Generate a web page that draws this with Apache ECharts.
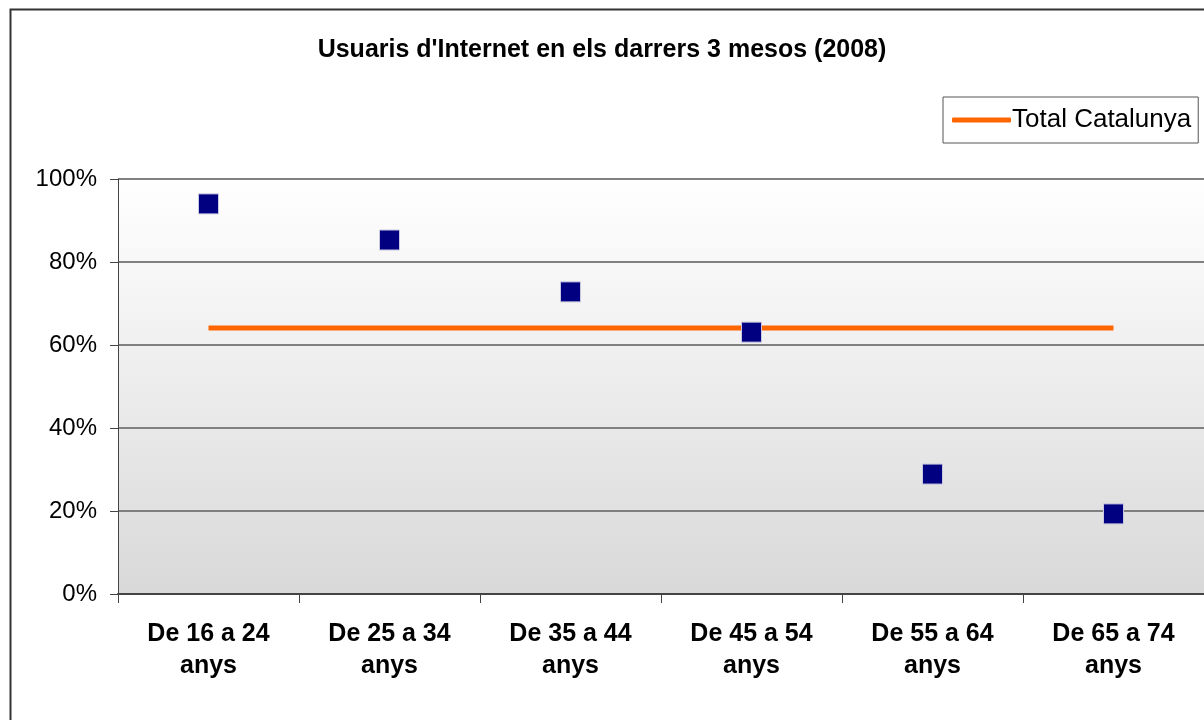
<!DOCTYPE html>
<html>
<head>
<meta charset="utf-8">
<script src="https://cdn.jsdelivr.net/npm/echarts@6/dist/echarts.min.js"></script>
<style>
html, body { margin: 0; padding: 0; background: #fff; }
#chart_wrap { width: 1204px; height: 720px; }
</style>
</head>
<body>
<div id="chart_wrap"></div>
<script>
var categories = ['De 16 a 24\nanys', 'De 25 a 34\nanys', 'De 35 a 44\nanys', 'De 45 a 54\nanys', 'De 55 a 64\nanys', 'De 65 a 74\nanys'];
var usuaris = [94.0, 85.3, 72.8, 63.1, 28.9, 19.3];
var totalCatalunya = [64.1, 64.1, 64.1, 64.1, 64.1, 64.1];
var yTicks = [0, 20, 40, 60, 80, 100];

var chart = echarts.init(document.getElementById('chart_wrap'));

var option = {
    backgroundColor: '#fff',
    animation: false,
    title: {
        text: "Usuaris d'Internet en els darrers 3 mesos (2008)",
        left: 'center',
        top: 33,
        textStyle: {
            fontFamily: 'Liberation Sans, Arial, sans-serif',
            fontSize: 25,
            fontWeight: 'bold',
            color: '#000'
        }
    },
    legend: {
        data: [{ name: 'Total Catalunya', icon: 'roundRect' }],
        left: 943,
        top: 97,
        padding: [10, 7, 10, 9],
        itemWidth: 59,
        itemHeight: 5,
        borderColor: '#555',
        borderWidth: 1,
        borderRadius: 0,
        textStyle: {
            fontFamily: 'Liberation Sans, Arial, sans-serif',
            fontSize: 26,
            color: '#000',
            padding: [0, 0, 0, -4]
        }
    },
    graphic: [{
        type: 'rect',
        shape: { x: 10.5, y: 9.5, width: 1300, height: 800 },
        style: { fill: 'none', stroke: '#333', lineWidth: 2 },
        silent: true,
        z: 10
    }],
    grid: {
        left: 118,
        top: 179,
        width: 1087,
        height: 415,
        show: true,
        borderWidth: 0,
        backgroundColor: new echarts.graphic.LinearGradient(0, 0, 0, 1, [
            { offset: 0, color: '#ffffff' },
            { offset: 1, color: '#d9d9d9' }
        ])
    },
    xAxis: {
        type: 'category',
        data: categories,
        boundaryGap: true,
        axisLine: { show: true, lineStyle: { color: '#444', width: 2 } },
        axisTick: { show: true, length: 9, alignWithLabel: false, lineStyle: { color: '#444', width: 1 } },
        axisLabel: {
            fontFamily: 'Liberation Sans, Arial, sans-serif',
            fontSize: 25,
            fontWeight: 'bold',
            color: '#000',
            lineHeight: 32,
            margin: 24,
            interval: 0
        },
        splitLine: { show: false }
    },
    yAxis: {
        type: 'value',
        min: 0,
        max: 100,
        interval: 20,
        axisLine: { show: true, lineStyle: { color: '#444', width: 1 } },
        axisTick: { show: true, length: 8, inside: false, lineStyle: { color: '#444' } },
        axisLabel: {
            fontFamily: 'Liberation Sans, Arial, sans-serif',
            fontSize: 24,
            color: '#000',
            margin: 21,
            formatter: function (v) {
                return yTicks.indexOf(v) >= 0 ? v + '%' : '';
            }
        },
        splitLine: { show: true, lineStyle: { color: '#808080', width: 2 } }
    },
    series: [
        {
            name: 'Total Catalunya',
            type: 'line',
            data: totalCatalunya,
            symbol: 'none',
            lineStyle: { color: '#ff6600', width: 5 },
            itemStyle: { color: '#ff6600' },
            z: 2
        },
        {
            name: 'Usuaris',
            type: 'scatter',
            data: usuaris,
            symbol: 'rect',
            symbolSize: 20,
            itemStyle: { color: '#000080', opacity: 1, borderColor: '#c8c8e0', borderWidth: 1 },
            z: 3
        }
    ]
};

chart.setOption(option);
</script>
</body>
</html>
